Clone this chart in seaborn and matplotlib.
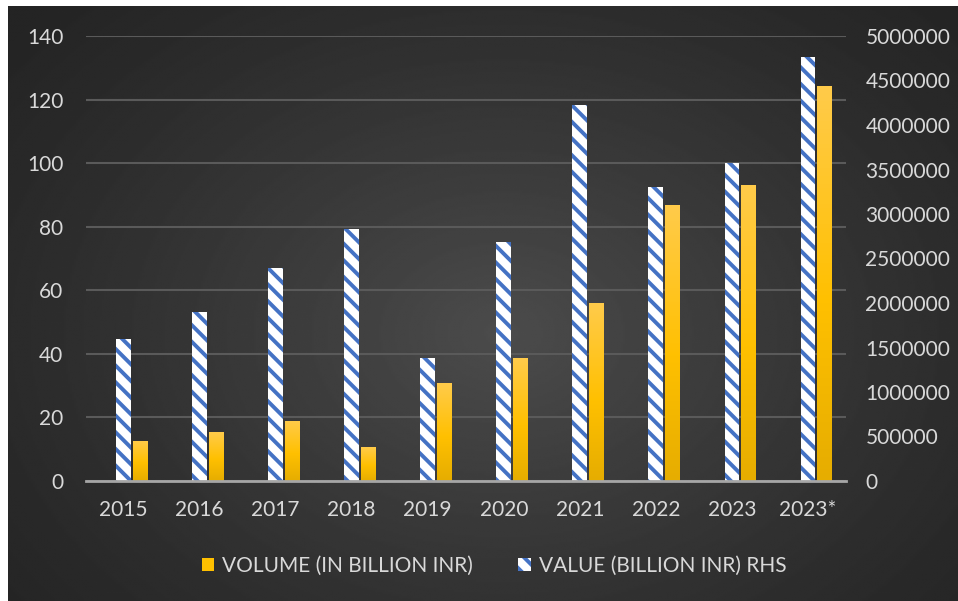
import numpy as np
import matplotlib
matplotlib.use("Agg")
import matplotlib.pyplot as plt
import seaborn as sns
from matplotlib.patches import Patch
from matplotlib.colors import LinearSegmentedColormap
from matplotlib.ticker import FuncFormatter

years = ["2015", "2016", "2017", "2018", "2019", "2020", "2021", "2022", "2023", "2023*"]
volume = [12.6, 15.4, 18.9, 10.6, 30.8, 38.6, 56.0, 86.8, 93.1, 124.3]
value = [1600000, 1900000, 2390000, 2830000, 1380000, 2690000, 4220000, 3300000, 3570000, 4760000]
vol_label = "VOLUME (IN BILLION INR)"
val_label = "VALUE (BILLION INR) RHS"

txt = "#D9D9D9"
gold = "#FFC000"
blue = "#4472C4"

plt.rcParams["font.family"] = ["Lato", "DejaVu Sans"]
plt.rcParams["hatch.linewidth"] = 2.8

fig = plt.figure(figsize=(9.58, 6.01), dpi=100)
fig.patch.set_facecolor("white")

# dark radial background panel
bg = fig.add_axes([8 / 958, 0, 950 / 958, 595 / 601], zorder=-10)
yy, xx = np.mgrid[0:1:300j, 0:1:480j]
r = np.sqrt(((xx - 0.52) / 0.55) ** 2 + ((yy - 0.55) / 0.65) ** 2)
r = np.clip(r / r.max(), 0, 1)
shade = 36 + 40 * (1 - r) ** 1.3
bg.imshow(shade, cmap="gray", vmin=0, vmax=255, extent=[0, 1, 0, 1],
          aspect="auto", interpolation="bilinear")
bg.axis("off")

ax = fig.add_axes([85.5 / 958, 120 / 601, 760.5 / 958, 445 / 601])
ax.set_facecolor("none")
ax2 = ax.twinx()

sns.barplot(x=years, y=volume, ax=ax, color=gold, width=0.195, saturation=1, zorder=3)
for p in ax.patches:
    p.set_x(p.get_x() + 0.222)

# vertical gradient on the yellow bars
ycmap = LinearSegmentedColormap.from_list("y", [(0, "#E6AD00"), (0.45, "#FFC000"), (1, "#FFCB4A")])
grad = np.linspace(0, 1, 100).reshape(-1, 1)
for p in list(ax.patches):
    x0, w, h = p.get_x(), p.get_width(), p.get_height()
    im = ax.imshow(grad, extent=[x0, x0 + w, 0, h], origin="lower", aspect="auto",
                   cmap=ycmap, zorder=3.5)
    im.set_clip_path(p)

sns.barplot(x=years, y=value, ax=ax2, color="white", width=0.195, saturation=1,
            hatch="\\\\", edgecolor=blue, linewidth=0)

ax.set_xlim(-0.5, 9.5)
ax.set_ylim(0, 140)
ax.set_yticks(range(0, 141, 20))
ax2.set_ylim(0, 5000000)
ax2.set_yticks(range(0, 5000001, 500000))
ax2.yaxis.set_major_formatter(FuncFormatter(lambda v, _: f"{v:.0f}"))

ax.grid(axis="y", color="#5A5A5A", lw=1.5)
ax.grid(axis="x", visible=False)
ax.set_axisbelow(True)
ax2.axhline(0, color="#A6A6A6", lw=2, zorder=5, clip_on=False)

for a in (ax, ax2):
    for s in a.spines.values():
        s.set_visible(False)
    a.set_xlabel("")
    a.set_ylabel("")
ax.tick_params(axis="both", length=0, colors=txt, labelsize=15)
ax.tick_params(axis="y", pad=16)
ax.tick_params(axis="x", pad=14)
ax2.tick_params(axis="y", length=0, colors=txt, labelsize=15, pad=14)

handles = [Patch(facecolor=gold, lw=0),
           Patch(facecolor="white", edgecolor=blue, hatch="\\\\", lw=0.01)]
fig.legend(handles, [vol_label, val_label], loc="center",
           bbox_to_anchor=(494 / 958, 1 - 566 / 601), ncol=2, frameon=False,
           fontsize=15, labelcolor=txt, handlelength=0.62, handleheight=0.62,
           handletextpad=0.38, columnspacing=2.15)

fig.savefig("out.png", dpi=100)
